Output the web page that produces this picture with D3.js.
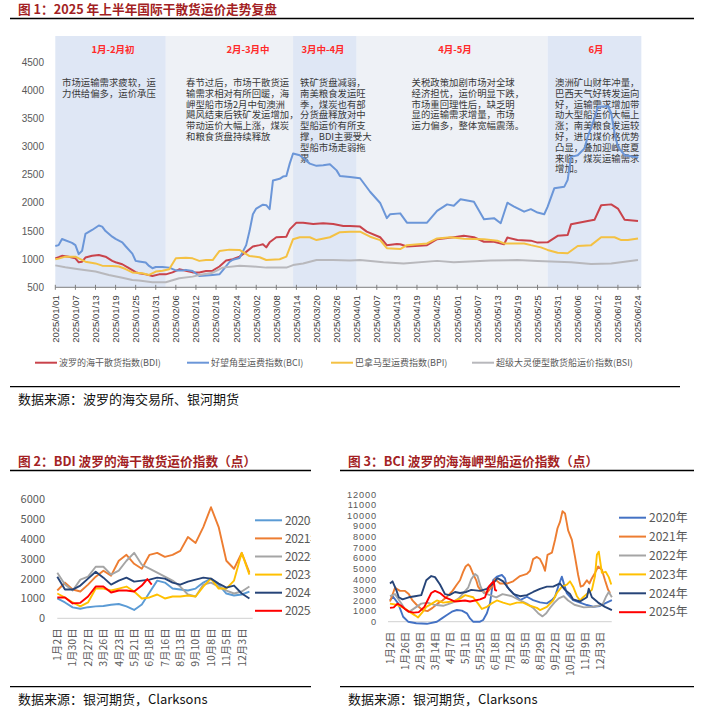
<!DOCTYPE html>
<html>
<head>
<meta charset="utf-8">
<script src="https://cdn.jsdelivr.net/npm/d3@7"></script>
<style>
  body { margin: 0; background: #fff; }
  svg { display: block; font-family: "Noto Sans CJK SC", "Noto Sans", sans-serif; }
</style>
</head>
<body>
<svg id="chart" width="704" height="714"></svg>
<script>
// ---------- figure 1 data (2025 H1, daily index values) ----------
const bdi = [["01-01",1015],["01-02",1035],["01-03",1060],["01-05",1045],["01-07",1015],["01-08",945],["01-09",955],["01-10",1030],["01-12",1060],["01-14",1075],["01-16",1045],["01-18",970],["01-19",945],["01-21",910],["01-23",840],["01-25",770],["01-26",750],["01-28",730],["01-30",700],["02-01",730],["02-03",730],["02-05",765],["02-07",820],["02-09",795],["02-11",765],["02-13",765],["02-15",790],["02-17",795],["02-19",870],["02-21",975],["02-23",1000],["02-25",1045],["02-27",1130],["03-01",1225],["03-03",1250],["03-04",1265],["03-05",1210],["03-06",1300],["03-08",1390],["03-11",1400],["03-12",1530],["03-14",1650],["03-16",1650],["03-19",1625],["03-22",1640],["03-25",1625],["03-28",1590],["03-30",1590],["04-02",1580],["04-04",1490],["04-08",1390],["04-10",1250],["04-13",1270],["04-14",1265],["04-16",1225],["04-22",1250],["04-25",1355],["04-30",1390],["05-03",1415],["05-06",1390],["05-09",1310],["05-12",1310],["05-15",1265],["05-16",1385],["05-19",1340],["05-23",1330],["05-25",1295],["05-28",1300],["05-31",1415],["06-03",1430],["06-04",1620],["06-09",1680],["06-11",1700],["06-13",1960],["06-16",1975],["06-18",1900],["06-20",1700],["06-24",1680]];
const bci = [["01-01",1235],["01-02",1250],["01-03",1360],["01-06",1290],["01-07",1250],["01-08",1090],["01-09",1150],["01-10",1450],["01-12",1520],["01-14",1600],["01-15",1580],["01-16",1500],["01-18",1400],["01-19",1360],["01-21",1300],["01-22",1230],["01-24",1100],["01-25",970],["01-26",960],["01-28",940],["01-29",880],["01-30",840],["01-31",860],["02-02",860],["02-04",850],["02-06",800],["02-08",800],["02-09",810],["02-11",790],["02-13",700],["02-15",710],["02-17",720],["02-19",730],["02-20",800],["02-22",950],["02-23",990],["02-25",1020],["02-27",1250],["02-28",1500],["03-01",1800],["03-02",1900],["03-04",1970],["03-05",1960],["03-06",1890],["03-07",2400],["03-09",2430],["03-10",2470],["03-11",2480],["03-12",2700],["03-13",2880],["03-15",2850],["03-16",2800],["03-18",2700],["03-20",2660],["03-22",2670],["03-24",2690],["03-26",2580],["03-27",2480],["03-30",2460],["04-02",2440],["04-05",2200],["04-08",2000],["04-10",1730],["04-11",1800],["04-14",1815],["04-16",1650],["04-22",1650],["04-25",1860],["04-28",1975],["04-30",1950],["05-02",2065],["05-06",2020],["05-09",1710],["05-12",1730],["05-14",1640],["05-16",2005],["05-18",1935],["05-21",1845],["05-23",1890],["05-25",1830],["05-27",1800],["05-28",1930],["05-30",2260],["06-02",2290],["06-03",2410],["06-04",2820],["06-06",2850],["06-08",2970],["06-09",3180],["06-11",3500],["06-12",3710],["06-15",3720],["06-16",3600],["06-17",3240],["06-18",3000],["06-20",2850],["06-24",2810]];
const bpi = [["01-01",998],["01-02",1010],["01-04",1045],["01-07",1045],["01-08",1015],["01-10",955],["01-13",925],["01-15",885],["01-18",880],["01-20",870],["01-22",825],["01-24",765],["01-27",750],["01-29",720],["01-31",780],["02-02",795],["02-04",820],["02-06",1015],["02-09",1025],["02-11",1015],["02-13",970],["02-15",985],["02-17",985],["02-19",1145],["02-22",1170],["02-25",1165],["02-28",1055],["03-03",1035],["03-05",985],["03-09",1000],["03-11",1045],["03-13",1355],["03-15",1390],["03-18",1390],["03-20",1340],["03-24",1390],["03-27",1480],["03-30",1490],["04-02",1490],["04-05",1400],["04-08",1340],["04-10",1195],["04-14",1180],["04-16",1250],["04-22",1280],["04-25",1370],["04-29",1390],["05-03",1365],["05-09",1355],["05-13",1330],["05-15",1280],["05-21",1280],["05-23",1250],["05-26",1210],["05-28",1165],["05-31",1115],["06-03",1105],["06-06",1235],["06-10",1250],["06-13",1390],["06-17",1390],["06-19",1340],["06-21",1340],["06-24",1370]];
const bsi = [["01-01",890],["01-04",855],["01-08",820],["01-13",780],["01-17",720],["01-21",670],["01-24",630],["01-26",620],["01-30",590],["02-03",590],["02-07",660],["02-11",690],["02-13",720],["02-17",760],["02-20",850],["02-25",885],["03-01",870],["03-05",850],["03-11",850],["03-13",895],["03-16",925],["03-20",985],["03-25",985],["03-30",975],["04-02",985],["04-09",945],["04-15",925],["04-25",970],["04-30",945],["05-11",975],["05-19",985],["05-25",970],["06-04",945],["06-10",915],["06-16",925],["06-24",985]];

const seriesNames1 = ["波罗的海干散货指数(BDI)", "好望角型运费指数(BCI)", "巴拿马型运费指数(BPI)", "超级大灵便型散货船运价指数(BSI)"];
const yTicks1 = [500, 1000, 1500, 2000, 2500, 3000, 3500, 4000, 4500];
const xTicks1 = ["01/01","01/07","01/13","01/19","01/25","01/31","02/06","02/12","02/18","02/24","03/02","03/08","03/14","03/20","03/26","04/01","04/07","04/13","04/19","04/25","05/01","05/07","05/13","05/19","05/25","05/31","06/06","06/12","06/18","06/24"];

const bandNames = ["1月-2月初", "2月-3月中", "3月中-4月", "4月-5月", "6月"];
const bandFrom = ["01-01", "02-03", "03-13", "04-01", "05-28"];
const bandTo = ["02-03", "03-13", "04-01", "05-28", "06-25"];
const notes = [
  ["市场运输需求疲软，运", "力供给偏多，运价承压"],
  ["春节过后，市场干散货运", "输需求相对有所回暖，海", "岬型船市场2月中旬澳洲", "飓风结束后铁矿发运增加，", "带动运价大幅上涨，煤炭", "和粮食货盘持续释放"],
  ["铁矿货盘减弱，", "南美粮食发运旺", "季，煤炭也有部", "分货盘释放对中", "型船运价有所支", "撑，BDI主要受大", "型船市场走弱拖", "累"],
  ["关税政策加剧市场对全球", "经济担忧，运价明显下跌，", "市场重回理性后，缺乏明", "显的运输需求增量，市场", "运力偏多，整体宽幅震荡。"],
  ["澳洲矿山财年冲量，", "巴西天气好转发运向", "好，运输需求增加带", "动大型船运价大幅上", "涨；南美粮食发运较", "好，进口煤价格优势", "凸显，叠加迎峰度夏", "来临，煤炭运输需求", "增加。"]
];

// ---------- figure 2 data: BDI by year, every 14 days from 2 Jan ----------
const bdiDays = d3.range(0, 351, 14);
const bdi2020 = [1000,800,550,480,560,600,620,680,720,600,420,700,1300,1900,1800,1500,1450,1400,1500,1800,2000,1700,1250,1150,1200,1350];
const bdi2021 = [1400,1800,1450,1350,1700,2100,2400,2150,2900,3200,2750,2500,3200,3300,3100,3200,3400,4100,3800,4600,5600,4600,2900,2500,3300,2300];
const bdi2022 = [2300,1700,1400,1950,2100,2600,2600,2200,2400,2900,3300,2700,2500,2300,2100,1900,1600,1200,1100,1700,1800,1600,1400,1250,1350,1600];
const bdi2023 = [1250,1050,800,600,800,1500,1500,1400,1500,1600,1350,1000,1050,1200,1000,1100,1100,1150,1100,1600,2000,1500,1500,1900,3300,2200];
const bdi2024 = [2100,1450,1450,1650,2000,2350,2050,1700,1900,2050,1850,1900,1950,2050,2000,1800,1700,1850,1950,2050,2000,1750,1550,1650,1250,1000];
const bdi2025 = [[0,1050],[14,1050],[28,750],[42,780],[56,1100],[70,1600],[84,1600],[98,1300],[112,1400],[126,1400],[140,1350],[154,1650],[164,1980],[172,1700]];
const bdiTickLabels = ["1月2日","1月30日","2月27日","3月26日","4月23日","5月21日","6月18日","7月16日","8月13日","9月10日","10月8日","11月5日","12月3日"];

// ---------- figure 3 data: BCI by year, [day from 2 Jan, value] ----------
const bci2020 = [[0,2040],[5,2350],[13,1730],[21,470],[29,0],[42,-150],[59,-200],[75,0],[83,310],[91,630],[99,940],[107,1100],[115,1040],[123,790],[128,310],[133,0],[144,0],[149,160],[155,790],[160,1730],[165,3900],[171,4240],[179,4400],[184,4080],[187,3300],[197,2670],[208,2040],[219,2350],[229,2040],[240,1820],[251,1730],[259,2040],[264,2350],[269,3300],[275,4240],[278,3610],[283,2670],[293,2040],[304,1790],[315,1570],[325,1410],[336,1480],[344,1730],[355,2040]];
const bci2021 = [[0,1900],[8,3200],[16,2900],[24,2900],[30,2600],[36,2000],[44,1500],[52,1100],[60,1000],[68,1300],[76,1700],[84,2000],[92,2400],[100,2900],[107,3500],[112,3900],[117,4700],[121,5200],[125,5400],[128,5200],[133,4500],[138,3900],[141,3300],[146,2900],[155,2700],[163,3300],[168,4000],[176,3600],[188,3600],[197,3800],[208,4300],[219,4500],[224,4800],[229,5900],[235,6100],[240,5900],[245,5300],[248,4800],[252,6300],[259,6500],[264,7700],[268,8800],[272,9400],[276,10400],[280,10200],[285,8600],[291,7700],[296,6100],[301,4400],[305,3300],[309,3400],[315,3900],[319,3600],[323,4100],[328,4600],[333,5200],[339,4900],[344,3900],[349,3000],[352,2700]];
const bci2022 = [[0,2400],[8,2600],[16,1900],[24,1200],[30,900],[40,1300],[50,1700],[60,1800],[70,1600],[85,1500],[100,1800],[110,2200],[125,3200],[130,4000],[136,4500],[140,4300],[145,3300],[150,2700],[160,2500],[170,2300],[180,2600],[195,2400],[208,2000],[219,1700],[229,1300],[237,800],[244,500],[250,800],[256,1300],[263,1800],[270,2200],[278,2400],[285,2000],[295,1600],[310,1350],[325,1400],[340,1600],[346,2400],[350,2800],[355,2300]];
const bci2023 = [[0,1700],[10,1600],[22,1300],[32,900],[40,600],[45,400],[52,900],[58,1400],[67,1700],[75,2000],[85,1800],[100,1900],[113,2200],[120,2500],[133,2300],[141,1700],[147,1200],[155,1400],[162,1700],[171,2000],[181,1800],[192,1600],[203,1800],[213,1800],[224,1500],[235,1300],[240,1100],[251,1400],[261,2000],[267,2700],[275,3300],[283,3500],[288,3800],[293,3300],[299,2400],[304,2000],[309,2300],[315,2600],[323,3000],[328,4300],[331,6300],[334,6600],[337,5400],[339,4600],[345,4700],[350,4200],[354,3500]];
const bci2024 = [[0,3600],[4,3800],[10,3000],[14,2300],[20,2100],[30,2300],[40,2400],[50,2500],[58,3900],[66,4300],[72,4200],[80,3500],[88,2600],[95,2500],[104,2800],[112,2700],[122,2800],[130,3000],[144,2900],[155,3100],[165,3600],[172,4100],[181,3800],[190,3100],[198,2600],[208,2400],[219,2500],[229,2800],[240,3100],[251,3300],[261,3300],[272,3600],[280,3000],[288,2600],[293,2100],[304,1900],[315,2300],[318,3100],[323,2300],[333,1800],[344,1400],[355,1100]];
const bci2025 = [[0,1300],[6,1350],[12,1700],[18,1500],[24,1200],[30,950],[38,850],[46,900],[55,1400],[60,2000],[66,2700],[72,2900],[80,2700],[88,2300],[96,2100],[104,1900],[112,1950],[120,2000],[128,1900],[136,2000],[144,2100],[152,2300],[158,3300],[164,3700],[166,3800],[168,3000],[171,2900]];
const bciTickLabels = ["1月2日","1月26日","2月19日","3月14日","4月7日","5月1日","5月25日","6月18日","7月12日","8月5日","8月29日","9月22日","10月16日","11月9日","12月3日"];
const years = ["2020年", "2021年", "2022年", "2023年", "2024年", "2025年"];

// ---------- drawing ----------
const svg = d3.select('#chart');
const parse = d3.timeParse('%Y-%m-%d');
const D = s => parse('2025-' + s);
const titleColor = '#a31f24';

function heading(x, y, text, x2) {
  svg.append('text').attr('x', x).attr('y', y).attr('font-size', 12.7).attr('font-weight', 'bold')
    .attr('fill', titleColor).text(text);
  svg.append('line').attr('x1', x - 8).attr('x2', x2).attr('y1', y + 4.5).attr('y2', y + 4.5)
    .attr('stroke', '#000').attr('stroke-width', 1.3);
}

// figure 1
heading(18, 14, '图 1：2025 年上半年国际干散货运价走势复盘', 694);

const x1 = d3.scaleTime().domain([D('01-01'), D('06-24')]).range([55.3, 638]);
const y1 = d3.scaleLinear().domain([500, 4970]).range([287.3, 36]);

const g1 = svg.append('g');
g1.selectAll('rect.band').data(bandNames).join('rect')
  .attr('x', (d, i) => x1(D(bandFrom[i])))
  .attr('width', (d, i) => x1(D(bandTo[i])) - x1(D(bandFrom[i])))
  .attr('y', y1(4970)).attr('height', y1(500) - y1(4970))
  .attr('fill', (d, i) => i % 2 === 0 ? '#dfe7f5' : '#eef1f6');

const bandLabelX = [113, 248, 323, 455, 596];
g1.selectAll('text.bandlab').data(bandNames).join('text')
  .attr('x', (d, i) => bandLabelX[i]).attr('y', 52.5)
  .attr('text-anchor', 'middle').attr('font-size', 9.5).attr('font-weight', 'bold')
  .attr('fill', '#ff2a2a').text(d => d);

const noteX = [62, 186, 300, 411.5, 555];
notes.forEach((lines, i) => {
  const t = g1.append('text').attr('font-size', 9.4).attr('fill', '#3a3a3a');
  lines.forEach((l, j) => t.append('tspan').attr('x', noteX[i]).attr('y', 86 + j * 10.8).text(l));
});

// y axis labels
g1.selectAll('text.ytick').data(yTicks1).join('text')
  .attr('x', 44).attr('y', d => y1(d) + 3.5).attr('text-anchor', 'end')
  .attr('font-family', 'Liberation Sans, Arial, sans-serif').attr('font-size', 10).attr('fill', '#595959')
  .text(d => d);

const colors1 = ['#c9434b', '#6b96d8', '#f4c143', '#b8b8bc'];
const line1 = d3.line().x(d => x1(D(d[0]))).y(d => y1(d[1]));
[bdi, bci, bpi, bsi].forEach((s, i) => {
  g1.append('path').datum(s).attr('d', line1).attr('fill', 'none')
    .attr('stroke', colors1[i]).attr('stroke-width', 2).attr('stroke-linejoin', 'round');
});

// x axis
const xAxisY = y1(500);
g1.append('line').attr('x1', 55.3).attr('x2', 641).attr('y1', xAxisY).attr('y2', xAxisY)
  .attr('stroke', '#7f7f7f').attr('stroke-width', 1);
xTicks1.forEach(t => {
  const xx = x1(D(t.replace('/', '-')));
  g1.append('line').attr('x1', xx).attr('x2', xx).attr('y1', xAxisY - 2.5).attr('y2', xAxisY + 2.5)
    .attr('stroke', '#7f7f7f');
  g1.append('text').attr('transform', `translate(${xx + 3.4},${xAxisY + 8}) rotate(-90)`)
    .attr('text-anchor', 'end').attr('font-family', 'Liberation Sans, Arial, sans-serif')
    .attr('font-size', 9.5).attr('fill', '#404040').text('2025/' + t);
});

// legend
const legX = [35, 187, 331, 472];
seriesNames1.forEach((n, i) => {
  g1.append('line').attr('x1', legX[i]).attr('x2', legX[i] + 22).attr('y1', 362.7).attr('y2', 362.7)
    .attr('stroke', colors1[i]).attr('stroke-width', 2);
  g1.append('text').attr('x', legX[i] + 24).attr('y', 366).attr('font-size', 9).attr('fill', '#595959').text(n);
});
svg.append('line').attr('x1', 10).attr('x2', 680).attr('y1', 386.7).attr('y2', 386.7)
  .attr('stroke', '#000').attr('stroke-width', 1.3);
svg.append('text').attr('x', 18).attr('y', 404).attr('font-size', 13).attr('fill', '#111')
  .text('数据来源：波罗的海交易所、银河期货');

// small year-on-year charts
function smallChart(o) {
  heading(o.left + 8, 466, o.title, o.right);
  const g = svg.append('g');
  const x = d3.scaleLinear().domain(o.xDomain).range(o.xRange);
  const y = d3.scaleLinear().domain([0, o.yMax]).range(o.yRange);
  g.selectAll('text.yt').data(d3.range(0, o.yMax + 1, o.yStep)).join('text')
    .attr('x', o.yLabelX).attr('y', d => y(d) + o.yFont * 0.36).attr('text-anchor', 'end')
    .attr('font-family', o.yFamily).attr('letter-spacing', o.ySpacing)
    .attr('font-size', o.yFont).attr('fill', '#595959').text(d => d);
  g.append('line').attr('x1', o.xRange[0]).attr('x2', o.xRange[1]).attr('y1', y(0)).attr('y2', y(0))
    .attr('stroke', '#d9d9d9').attr('stroke-width', 1.2);
  o.tickLabels.forEach((t, i) => {
    g.append('text').attr('transform', `translate(${x(i * o.tickStep) + 3.8},${y(0) + o.labelGap}) rotate(-90)`)
      .attr('text-anchor', 'end').attr('font-size', 10.5).attr('fill', '#595959').text(t);
  });
  const line = d3.line().x(d => x(d[0])).y(d => y(d[1]));
  o.series.forEach((s, i) => {
    g.append('path').datum(s).attr('d', line).attr('fill', 'none')
      .attr('stroke', o.colors[i]).attr('stroke-width', 1.9).attr('stroke-linejoin', 'round');
  });
  const clipId = 'clip' + o.left;
  svg.append('clipPath').attr('id', clipId).append('rect')
    .attr('x', o.legendX).attr('y', 500).attr('width', o.legendClip - o.legendX).attr('height', 130);
  const lg = g.append('g').attr('clip-path', `url(#${clipId})`);
  years.forEach((yr, i) => {
    const ly = o.legendY[0] + i * o.legendY[1];
    lg.append('line').attr('x1', o.legendX).attr('x2', o.legendX + 27).attr('y1', ly).attr('y2', ly)
      .attr('stroke', o.colors[i]).attr('stroke-width', 2);
    lg.append('text').attr('x', o.legendX + 30).attr('y', ly + 4.2).attr('font-size', 12)
      .attr('letter-spacing', o.legendSpacing).attr('fill', '#595959').text(yr);
  });
  svg.append('line').attr('x1', o.left).attr('x2', o.right).attr('y1', 686.7).attr('y2', 686.7)
    .attr('stroke', '#000').attr('stroke-width', 1.3);
  svg.append('text').attr('x', o.left + 8).attr('y', 704).attr('font-size', 13).attr('fill', '#111')
    .text('数据来源：银河期货，Clarksons');
}

smallChart({
  left: 10, right: 311, title: '图 2：BDI 波罗的海干散货运价指数（点）',
  xDomain: [0, 356], xRange: [57.3, 252.7], yMax: 6000, yStep: 1000, yRange: [618.3, 499.3],
  yLabelX: 45, yFont: 11, yFamily: null, ySpacing: 0, tickLabels: bdiTickLabels, tickStep: 28, labelGap: 10,
  series: [bdi2020, bdi2021, bdi2022, bdi2023, bdi2024].map(v => v.map((d, i) => [bdiDays[i], d])).concat([bdi2025]),
  colors: ['#5b9bd5', '#ed7d31', '#a5a5a5', '#ffc000', '#264478', '#ff0000'],
  legendX: 255, legendClip: 311, legendY: [520.3, 18.1], legendSpacing: -0.4
});

smallChart({
  left: 340, right: 694, title: '图 3：BCI 波罗的海海岬型船运价指数（点）',
  xDomain: [-3.2, 354.7], xRange: [388, 611.7], yMax: 12000, yStep: 1000, yRange: [621.7, 494.3],
  yLabelX: 377, yFont: 9.2, yFamily: 'Liberation Sans, Arial, sans-serif', ySpacing: 0.9,
  tickLabels: bciTickLabels, tickStep: 24, labelGap: 10,
  series: [bci2020, bci2021, bci2022, bci2023, bci2024, bci2025],
  colors: ['#4472c4', '#ed7d31', '#a5a5a5', '#ffc000', '#264478', '#ff0000'],
  legendX: 619, legendClip: 700, legendY: [517.7, 18.9], legendSpacing: 0
});
</script>
</body>
</html>
